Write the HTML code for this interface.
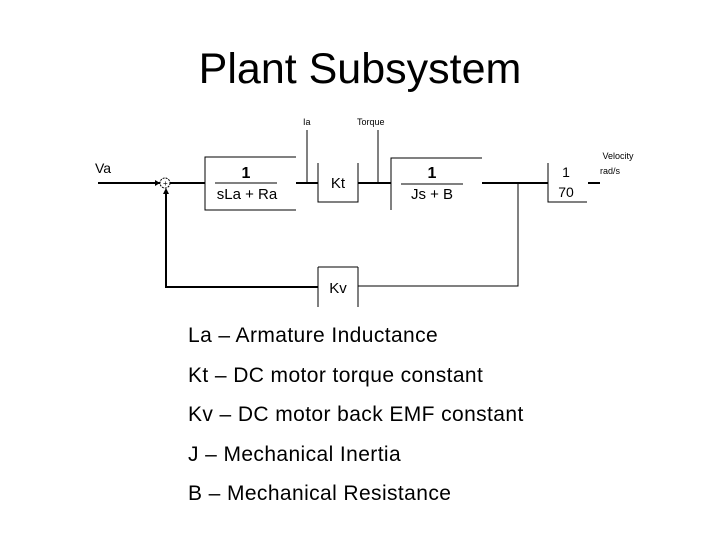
<!DOCTYPE html>
<html><head><meta charset="utf-8"><style>
html,body{margin:0;padding:0;background:#fff;}
svg{display:block;}
text{font-family:"Liberation Sans",Arial,sans-serif;fill:#000;}
</style></head><body>
<svg width="720" height="540" viewBox="0 0 720 540" xmlns="http://www.w3.org/2000/svg">
<text x="360" y="83" font-size="43" text-anchor="middle">Plant Subsystem</text>
<g stroke="#000" fill="none">
<line x1="98" y1="183" x2="160" y2="183" stroke-width="2"/>
<circle cx="165" cy="183" r="5" stroke-width="1" stroke-dasharray="2,1"/>
<line x1="170" y1="183" x2="205" y2="183" stroke-width="2"/>
<polyline points="296,157 205,157 205,210 296,210" stroke-width="1"/>
<line x1="215" y1="183" x2="277" y2="183" stroke-width="1"/>
<line x1="296" y1="183" x2="318" y2="183" stroke-width="2"/>
<line x1="307" y1="130" x2="307" y2="183" stroke-width="1"/>
<polyline points="318,163 318,202 358,202 358,163" stroke-width="1"/>
<line x1="358" y1="183" x2="391" y2="183" stroke-width="2"/>
<line x1="378" y1="130" x2="378" y2="183" stroke-width="1"/>
<polyline points="482,158 391,158 391,210" stroke-width="1"/>
<line x1="401" y1="184" x2="463" y2="184" stroke-width="1"/>
<line x1="482" y1="183" x2="548" y2="183" stroke-width="2"/>
<polyline points="518,183 518,286 358,286" stroke-width="1"/>
<polyline points="318,267 318,307" stroke-width="1"/>
<polyline points="358,267 358,307" stroke-width="1"/>
<line x1="318" y1="267" x2="358" y2="267" stroke-width="1"/>
<polyline points="318,287 166,287 166,191" stroke-width="2"/>
<polyline points="548,163 548,202 587,202" stroke-width="1"/>
<line x1="588" y1="183" x2="600" y2="183" stroke-width="2"/>
</g>
<polygon points="166,188 163,194 169,194" fill="#000"/>
<polygon points="160,183 155,180 155,186" fill="#000"/>
<text x="163" y="186" font-size="8">+</text>
<text x="95" y="173" font-size="14">Va</text>
<text x="246" y="178" font-size="16" font-weight="bold" text-anchor="middle">1</text>
<text x="247" y="199" font-size="15" text-anchor="middle">sLa + Ra</text>
<text x="338" y="188" font-size="15" text-anchor="middle">Kt</text>
<text x="432" y="178" font-size="16" font-weight="bold" text-anchor="middle">1</text>
<text x="432" y="199" font-size="15" text-anchor="middle">Js + B</text>
<text x="338" y="293" font-size="15" text-anchor="middle">Kv</text>
<text x="566" y="177" font-size="14" text-anchor="middle">1</text>
<text x="566" y="197" font-size="14" text-anchor="middle">70</text>
<text x="303" y="125" font-size="9">Ia</text>
<text x="357" y="125" font-size="9">Torque</text>
<text x="618" y="159" font-size="9" text-anchor="middle">Velocity</text>
<text x="610" y="174" font-size="9" text-anchor="middle">rad/s</text>
<g font-size="21" letter-spacing="0.4">
<text x="188" y="342">La – Armature Inductance</text>
<text x="188" y="382">Kt – DC motor torque constant</text>
<text x="188" y="421">Kv – DC motor back EMF constant</text>
<text x="188" y="461">J – Mechanical Inertia</text>
<text x="188" y="500">B – Mechanical Resistance</text>
</g>
</svg>
</body></html>
